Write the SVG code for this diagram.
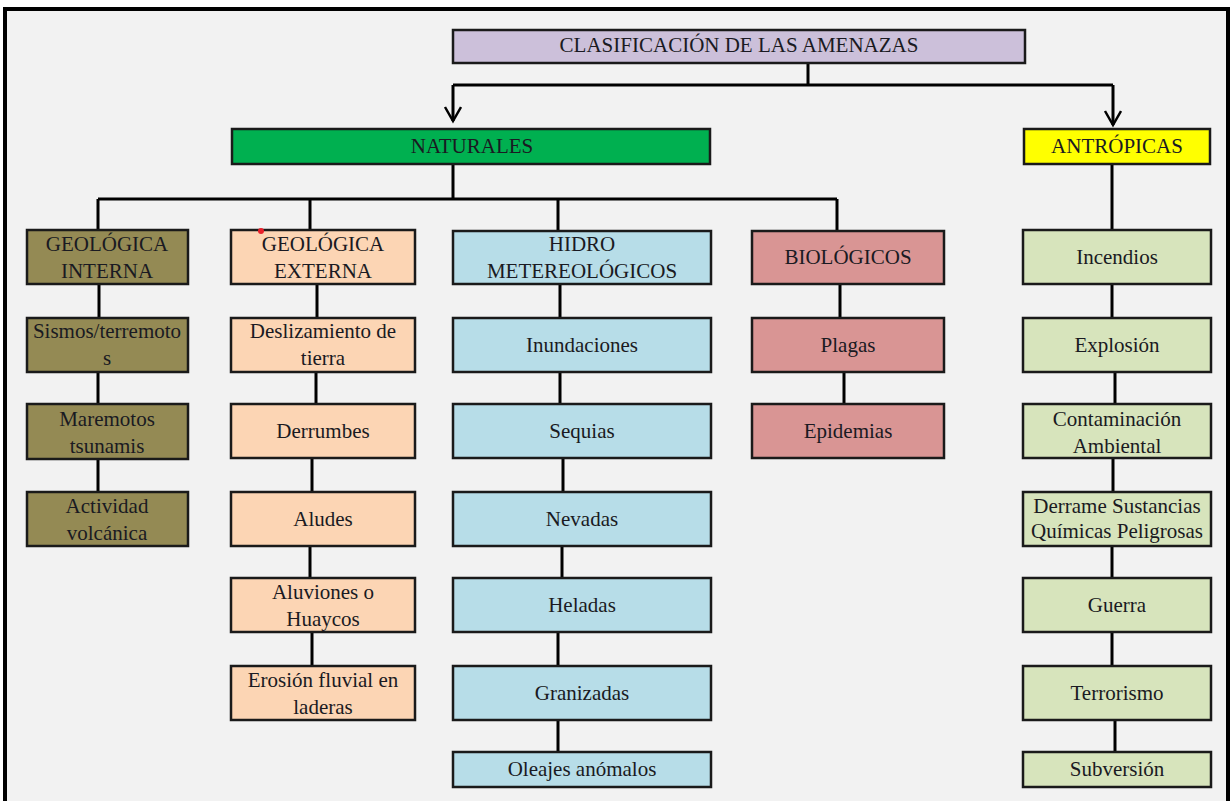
<svg xmlns="http://www.w3.org/2000/svg" width="1231" height="801" viewBox="0 0 1231 801">
<style>
text{font-family:"Liberation Serif","Times New Roman",serif;font-size:21px;fill:#1a1a22;text-anchor:middle}
.box{stroke:#1a1a1a;stroke-width:2.5}
.c{stroke:#000;stroke-width:3;fill:none}
.t{fill:#ccc0da}.n{fill:#00b050}.a{fill:#ffff00}
.g1{fill:#948a54}.g2{fill:#fcd5b4}.h{fill:#b7dde8}.b{fill:#d99594}.an{fill:#d7e4bc}
</style>
<defs>
<marker id="v" markerUnits="userSpaceOnUse" markerWidth="20" markerHeight="20" refX="15" refY="9" orient="auto">
<path d="M1,1 L15,9 L1,17" fill="none" stroke="#000" stroke-width="2.5"/>
</marker>
</defs>
<rect x="0" y="0" width="1231" height="801" fill="#ffffff"/>
<rect x="5" y="9" width="1223" height="800" fill="#f2f2f2" stroke="#000" stroke-width="4"/>

<g id="connectors">
<path class="c" d="M808,63 V85 M453,85 H1113"/>
<path class="c" d="M453,85 V121" marker-end="url(#v)"/>
<path class="c" d="M1113,85 V125" marker-end="url(#v)"/>
<path class="c" d="M453,164 V199 M98,199 H837 M98,199 V230 M310,199 V230 M558,199 V231 M837,199 V231"/>
<path class="c" d="M1112,164 V230"/>
<path class="c" d="M99,284 V318 M98,372 V404 M98,459 V492"/>
<path class="c" d="M317,284 V318 M316,372 V404 M312,458 V492 M310,546 V578 M312,632 V666"/>
<path class="c" d="M560,284 V318 M560,372 V404 M563,458 V492 M562,546 V578 M558,632 V666 M558,720 V752"/>
<path class="c" d="M840,284 V318 M844,372 V404"/>
<path class="c" d="M1112,284 V318 M1115,372 V404 M1113,458 V492 M1112,546 V578 M1112,632 V666 M1115,720 V752"/>
</g>

<g id="title"><rect class="box t" x="453" y="30" width="572" height="33"/><text x="739" y="52">CLASIFICACIÓN DE LAS AMENAZAS</text></g>
<g id="naturales"><rect class="box n" x="232" y="129" width="478" height="35"/><text x="472" y="153">NATURALES</text></g>
<g id="antropicas"><rect class="box a" x="1024" y="129" width="186" height="35"/><text x="1117" y="153">ANTRÓPICAS</text></g>

<g id="geo-interna"><rect class="box g1" x="27" y="230" width="161" height="54"/><text x="107" y="251">GEOLÓGICA</text><text x="107" y="278">INTERNA</text></g>
<g id="sismos"><rect class="box g1" x="27" y="318" width="161" height="54"/><text x="107" y="338">Sismos/terremoto</text><text x="107" y="365">s</text></g>
<g id="maremotos"><rect class="box g1" x="27" y="404" width="161" height="55"/><text x="107" y="426">Maremotos</text><text x="107" y="453">tsunamis</text></g>
<g id="volcanica"><rect class="box g1" x="27" y="492" width="161" height="54"/><text x="107" y="513">Actividad</text><text x="107" y="540">volcánica</text></g>

<g id="geo-externa"><rect class="box g2" x="231" y="230" width="184" height="54"/><text x="323" y="251">GEOLÓGICA</text><text x="323" y="278">EXTERNA</text><circle cx="261" cy="231" r="3" fill="#e8202a"/></g>
<g id="deslizamiento"><rect class="box g2" x="231" y="318" width="184" height="54"/><text x="323" y="338">Deslizamiento de</text><text x="323" y="365">tierra</text></g>
<g id="derrumbes"><rect class="box g2" x="231" y="404" width="184" height="54"/><text x="323" y="438">Derrumbes</text></g>
<g id="aludes"><rect class="box g2" x="231" y="492" width="184" height="54"/><text x="323" y="526">Aludes</text></g>
<g id="aluviones"><rect class="box g2" x="231" y="578" width="184" height="54"/><text x="323" y="599">Aluviones o</text><text x="323" y="626">Huaycos</text></g>
<g id="erosion"><rect class="box g2" x="231" y="666" width="184" height="54"/><text x="323" y="687">Erosión fluvial en</text><text x="323" y="714">laderas</text></g>

<g id="hidro"><rect class="box h" x="453" y="231" width="258" height="53"/><text x="582" y="251">HIDRO</text><text x="582" y="278">METEREOLÓGICOS</text></g>
<g id="inundaciones"><rect class="box h" x="453" y="318" width="258" height="54"/><text x="582" y="352">Inundaciones</text></g>
<g id="sequias"><rect class="box h" x="453" y="404" width="258" height="54"/><text x="582" y="438">Sequias</text></g>
<g id="nevadas"><rect class="box h" x="453" y="492" width="258" height="54"/><text x="582" y="526">Nevadas</text></g>
<g id="heladas"><rect class="box h" x="453" y="578" width="258" height="54"/><text x="582" y="612">Heladas</text></g>
<g id="granizadas"><rect class="box h" x="453" y="666" width="258" height="54"/><text x="582" y="700">Granizadas</text></g>
<g id="oleajes"><rect class="box h" x="453" y="752" width="258" height="35"/><text x="582" y="776">Oleajes anómalos</text></g>

<g id="biologicos"><rect class="box b" x="752" y="231" width="192" height="53"/><text x="848" y="264">BIOLÓGICOS</text></g>
<g id="plagas"><rect class="box b" x="752" y="318" width="192" height="54"/><text x="848" y="352">Plagas</text></g>
<g id="epidemias"><rect class="box b" x="752" y="404" width="192" height="54"/><text x="848" y="438">Epidemias</text></g>

<g id="incendios"><rect class="box an" x="1023" y="230" width="188" height="54"/><text x="1117" y="264">Incendios</text></g>
<g id="explosion"><rect class="box an" x="1023" y="318" width="188" height="54"/><text x="1117" y="352">Explosión</text></g>
<g id="contaminacion"><rect class="box an" x="1023" y="404" width="188" height="54"/><text x="1117" y="426">Contaminación</text><text x="1117" y="453">Ambiental</text></g>
<g id="derrame"><rect class="box an" x="1023" y="492" width="188" height="54"/><text x="1117" y="513">Derrame Sustancias</text><text x="1117" y="538">Químicas Peligrosas</text></g>
<g id="guerra"><rect class="box an" x="1023" y="578" width="188" height="54"/><text x="1117" y="612">Guerra</text></g>
<g id="terrorismo"><rect class="box an" x="1023" y="666" width="188" height="54"/><text x="1117" y="700">Terrorismo</text></g>
<g id="subversion"><rect class="box an" x="1023" y="752" width="188" height="35"/><text x="1117" y="776">Subversión</text></g>
</svg>
